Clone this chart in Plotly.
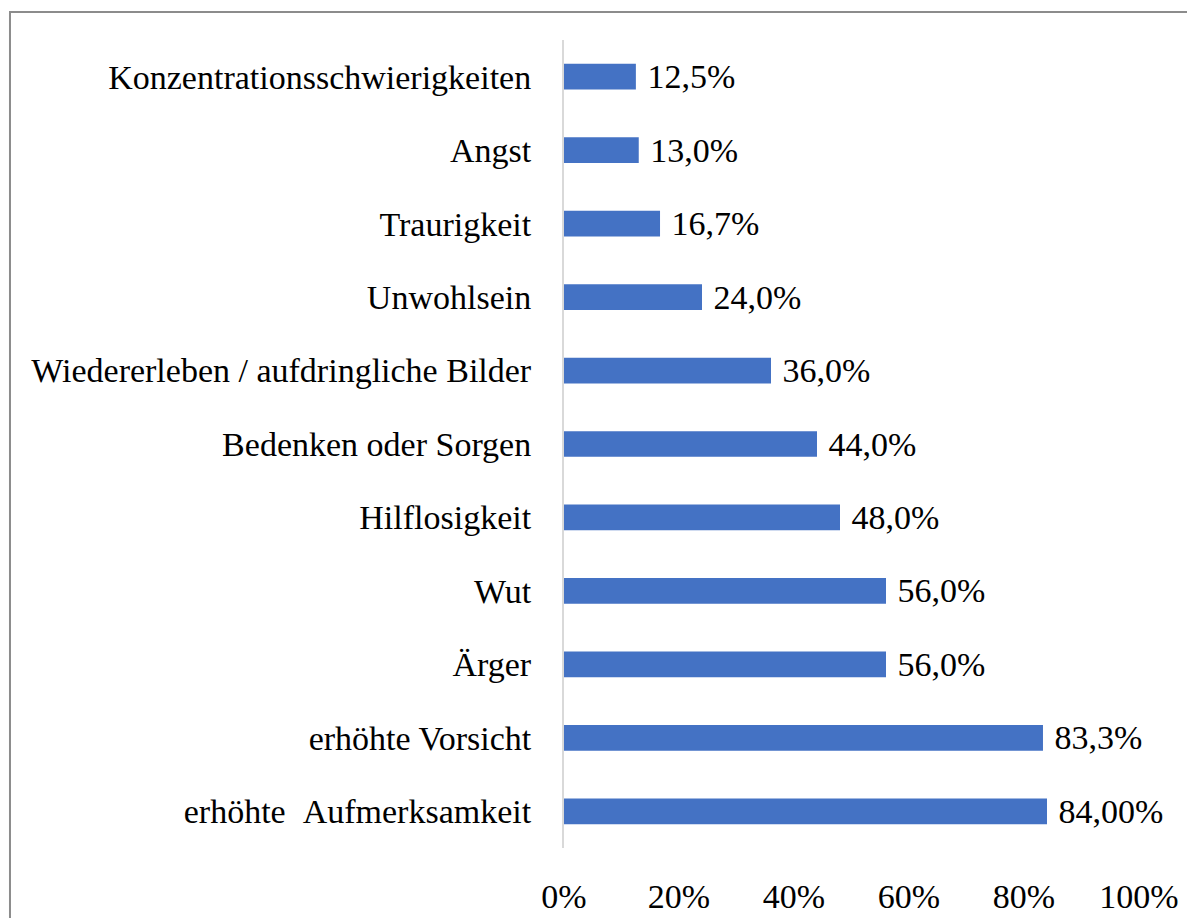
import plotly.graph_objects as go

# top to bottom, as in the picture
categories = [
    'Konzentrationsschwierigkeiten',
    'Angst',
    'Traurigkeit',
    'Unwohlsein',
    'Wiedererleben / aufdringliche Bilder',
    'Bedenken oder Sorgen',
    'Hilflosigkeit',
    'Wut',
    'Ärger',
    'erhöhte Vorsicht',
    'erhöhte\u00a0\u00a0Aufmerksamkeit',
]
values = [0.125, 0.13, 0.167, 0.24, 0.36, 0.44, 0.48, 0.56, 0.56, 0.833, 0.84]
value_labels = ['12,5%', '13,0%', '16,7%', '24,0%', '36,0%', '44,0%',
                '48,0%', '56,0%', '56,0%', '83,3%', '84,00%']

font_family = 'Liberation Serif'
font_size = 34

fig = go.Figure()
fig.add_trace(go.Bar(
    x=values,
    y=categories,
    orientation='h',
    marker=dict(color='#4472C4', line=dict(width=0)),
    text=['\u00a0' + t for t in value_labels],
    textposition='outside',
    constraintext='none',
    textfont=dict(family=font_family, size=font_size, color='#000000'),
    cliponaxis=False,
    hoverinfo='skip',
))

# outer chart border (bottom edge runs off the picture)
fig.add_shape(type='rect', xref='paper', yref='paper',
              x0=-0.9635, x1=1.0939, y0=-0.2, y1=1.0347,
              line=dict(color='#8c8c8c', width=2), fillcolor='rgba(0,0,0,0)',
              layer='below')

fig.update_layout(
    width=1187,
    height=910,
    margin=dict(l=556, r=56, t=32, b=70, autoexpand=False),
    paper_bgcolor='white',
    plot_bgcolor='white',
    bargap=0.65,
    showlegend=False,
    font=dict(family=font_family, size=font_size, color='#000000'),
    xaxis=dict(
        range=[0, 1],
        dtick=0.2,
        tickformat='.0%',
        showgrid=False,
        zeroline=False,
        showline=False,
        ticks='outside',
        ticklen=18,
        tickcolor='rgba(0,0,0,0)',
        tickfont=dict(family=font_family, size=font_size),
    ),
    yaxis=dict(
        autorange='reversed',
        showgrid=False,
        zeroline=False,
        showline=True,
        linecolor='#d9d9d9',
        linewidth=2,
        ticks='outside',
        ticklen=24,
        tickcolor='rgba(0,0,0,0)',
        tickfont=dict(family=font_family, size=font_size),
    ),
)

fig.write_html('out.html')
